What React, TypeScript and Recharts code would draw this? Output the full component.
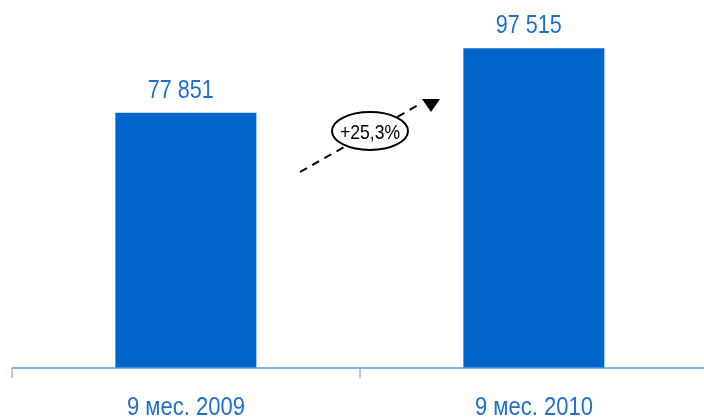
import { Bar, BarChart, LabelList, XAxis, YAxis } from "recharts";

const periods = ["9 мес. 2009", "9 мес. 2010"];
const values = [77851, 97515];
const growthLabel = "+25,3%";

const BLUE = "#0066CC";
const TEXT_BLUE = "#1F6FCB";
const AXIS_BLUE = "#5B9BD5";
const FONT = "'Liberation Sans', Arial, sans-serif";

const data = periods.map((p, i) => ({ period: p, value: values[i] }));

function fmt(v: number): string {
  return String(v).replace(/\B(?=(\d{3})+(?!\d))/g, " ");
}

// narrow-looking text: squeeze glyphs to the width the reference uses
function PeriodTick(props: any) {
  const { x, y, payload, index } = props;
  const half = payload && payload.offset ? payload.offset : 174;
  const axisY = y - 29;
  return (
    <g>
      {index === 0 && <line x1={x - half} y1={axisY} x2={x - half} y2={axisY + 10} stroke={AXIS_BLUE} />}
      {index === 0 && <line x1={x + half} y1={axisY} x2={x + half} y2={axisY + 10} stroke={AXIS_BLUE} />}
      <text
        x={x}
        y={y}
        dy="0.72em"
        textAnchor="middle"
        fill={TEXT_BLUE}
        fontSize={25}
        fontFamily={FONT}
        textLength={118}
        lengthAdjust="spacingAndGlyphs"
      >
        {payload.value}
      </text>
    </g>
  );
}

function ValueLabel(props: any) {
  const { x, y, width, value } = props;
  return (
    <text
      x={Number(x) + Number(width) / 2 - 5}
      y={Number(y) - 15}
      textAnchor="middle"
      fill={TEXT_BLUE}
      fontSize={25}
      fontFamily={FONT}
      textLength={66}
      lengthAdjust="spacingAndGlyphs"
    >
      {fmt(Number(value))}
    </text>
  );
}

export default function App() {
  return (
    <div style={{ position: "fixed", left: 0, top: 0, width: 704, height: 420, overflow: "hidden" }}>
      <BarChart width={704} height={420} data={data} margin={{ top: 0, right: -4, left: 12, bottom: 0 }} barCategoryGap="29.7%">
        <XAxis
          dataKey="period"
          height={52}
          axisLine={{ stroke: AXIS_BLUE, strokeWidth: 1.5 }}
          tickLine={false}
          tickSize={10}
          tickMargin={19}
          tick={<PeriodTick />}
          interval={0}
        />
        <YAxis hide domain={[0, 112200]} />
        <Bar dataKey="value" fill={BLUE} isAnimationActive={false}>
          <LabelList dataKey="value" content={<ValueLabel />} />
        </Bar>
      </BarChart>
      <svg width={704} height={420} style={{ position: "absolute", left: 0, top: 0, pointerEvents: "none" }}>
        <line x1={300} y1={172} x2={420} y2={104} stroke="#000" strokeWidth={2} strokeDasharray="8 6" />
        <polygon points="422,99 440,99 431,112" fill="#000" />
        <ellipse cx={370} cy={131} rx={38} ry={19} fill="#fff" stroke="#000" strokeWidth={2} />
        <text
          x={370}
          y={131}
          dy="0.36em"
          textAnchor="middle"
          fontSize={21}
          fontFamily={FONT}
          fill="#000"
          textLength={60}
          lengthAdjust="spacingAndGlyphs"
        >
          {growthLabel}
        </text>
      </svg>
    </div>
  );
}
